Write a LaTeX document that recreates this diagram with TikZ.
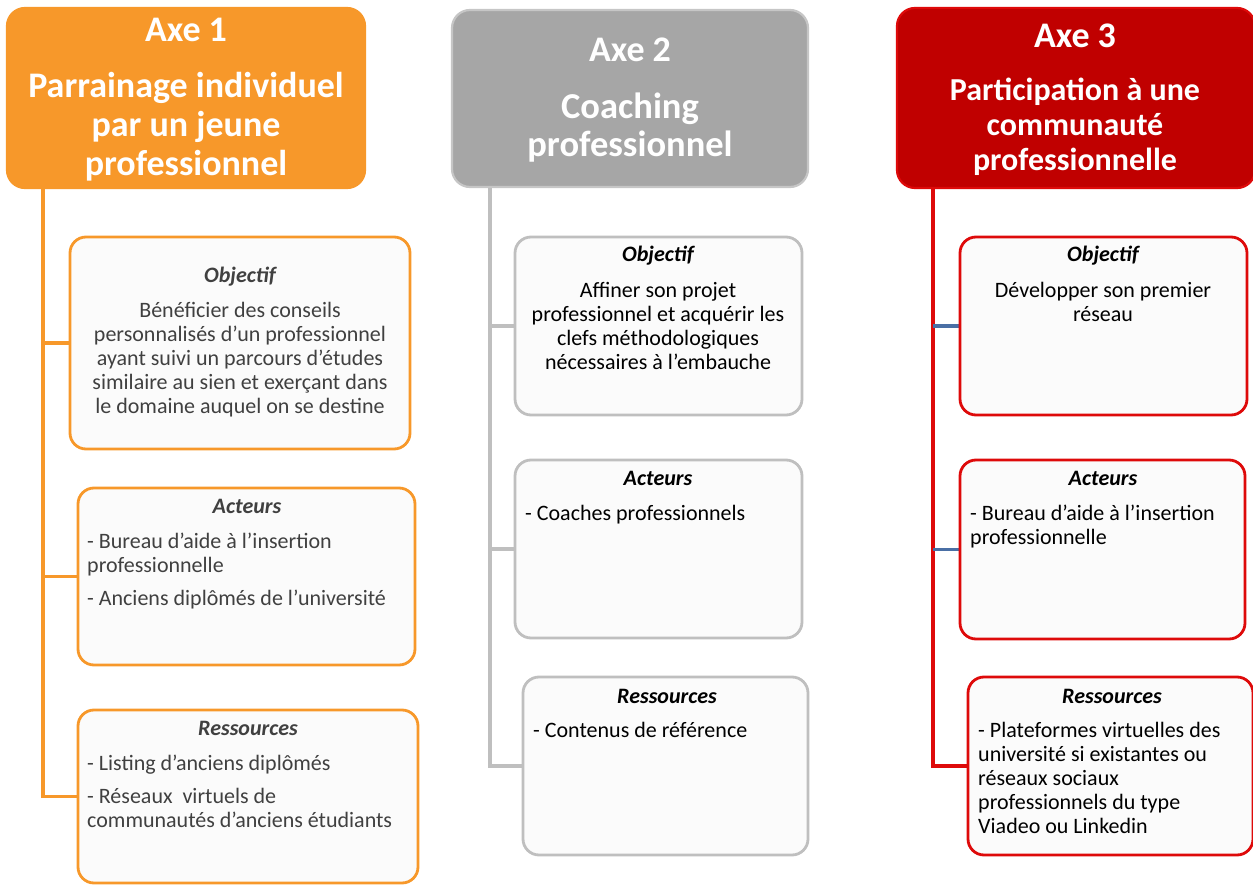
\documentclass[tikz,border=0pt]{standalone}
\usepackage{fontspec}
\setmainfont{Carlito}
\usetikzlibrary{backgrounds}
\definecolor{orA}{HTML}{F7982A}
\definecolor{grA}{HTML}{A6A6A6}
\definecolor{grB}{HTML}{C6C6C6}
\definecolor{grC}{HTML}{BFBFBF}
\definecolor{rdA}{HTML}{C00000}
\definecolor{rdB}{HTML}{DE0A0A}
\definecolor{blA}{HTML}{4A6FA5}
\definecolor{txg}{HTML}{404040}
\definecolor{sfill}{HTML}{FBFBFB}
\newcommand\bodyfont{\fontsize{22}{24}\selectfont}
\begin{document}
\begin{tikzpicture}[x=1pt,y=-1pt,
  hdr/.style={rounded corners=18pt, line width=2.2pt, inner sep=0},
  sub/.style={rounded corners=16pt, line width=2.8pt, fill=sfill, inner sep=0},
  axelbl/.style={inner sep=0, anchor=base, text=white, font=\fontsize{36}{39}\selectfont\bfseries},
  ttl/.style={inner sep=0, anchor=base, font=\bodyfont\bfseries\itshape},
  bodyc/.style={inner sep=0, anchor=north, align=center, font=\bodyfont},
  bodyl/.style={inner sep=0, anchor=north west, align=left, font=\bodyfont},
  sp1/.style={draw=orA, line width=3.2pt},
  sp2/.style={draw=grC, line width=3.2pt},
  sp3/.style={draw=rdB, line width=3.2pt},
  sp3b/.style={draw=blA, line width=3.2pt}]
\useasboundingbox (0,0) rectangle (1253,885);

% headers
\node[hdr, fill=orA, draw=orA, minimum width=358, minimum height=180] (h1) at (186,98) {};
\node[hdr, fill=grA, draw=grB, minimum width=356, minimum height=177] (h2) at (630,98.5) {};
\node[hdr, fill=rdA, draw=rdB, minimum width=358, minimum height=180] (h3) at (1076,98) {};

\node[axelbl] (h1a) at (186,42) {Axe 1};
\node[inner sep=0, anchor=north, align=center, text=white, font=\fontsize{36}{39}\selectfont\bfseries] (h1b) at (186,69.7) {\strut Parrainage individuel\\par un jeune\\professionnel};
\node[axelbl] (h2a) at (630,62) {Axe 2};
\node[inner sep=0, anchor=north, align=center, text=white, font=\fontsize{36.5}{36}\selectfont\bfseries] (h2b) at (630,92.8) {\strut Coaching\\professionnel};
\node[axelbl] (h3a) at (1075,48) {Axe 3};
\node[inner sep=0, anchor=north, align=center, text=white, font=\fontsize{32}{35}\selectfont\bfseries] (h3b) at (1075,75.5) {\strut Participation à une\\communauté\\professionnelle};

% sub boxes
\node[sub, draw=orA, minimum width=340, minimum height=212] (o1) at (240,343) {};
\node[sub, draw=orA, minimum width=337, minimum height=177] (a1) at (246.5,576.5) {};
\node[sub, draw=orA, minimum width=340, minimum height=173] (r1) at (248,796.5) {};
\node[sub, draw=grC, minimum width=287, minimum height=178] (o2) at (658.5,326) {};
\node[sub, draw=grC, minimum width=287, minimum height=178] (a2) at (658.5,549) {};
\node[sub, draw=grC, minimum width=285, minimum height=178] (r2) at (665.5,766) {};
\node[sub, draw=rdB, minimum width=287, minimum height=178] (o3) at (1103.5,326) {};
\node[sub, draw=rdB, minimum width=285, minimum height=179] (a3) at (1102.5,549.5) {};
\node[sub, draw=rdB, minimum width=285, minimum height=178] (r3) at (1110.5,766) {};

% connectors
\coordinate (t1) at (43,188);
\coordinate (t2) at (490,187);
\coordinate (t3) at (933,188);
\begin{scope}[on background layer]
\draw[sp1] (t1) |- (r1.west);
\draw[sp1] (t1 |- o1.west) -- (o1.west);
\draw[sp1] (t1 |- a1.west) -- (a1.west);
\draw[sp2] (t2) |- (r2.west);
\draw[sp2] (t2 |- o2.west) -- (o2.west);
\draw[sp2] (t2 |- a2.west) -- (a2.west);
\draw[sp3] (t3) |- (r3.west);
\draw[sp3b] (t3 |- o3.west) -- (o3.west);
\draw[sp3b] (t3 |- a3.west) -- (a3.west);
\end{scope}

% texts column 1
\node[ttl, text=txg] (o1t) at (240,283) {Objectif};
\node[bodyc, text=txg] (o1b) at (240,300.2) {\strut Bénéficier des conseils\\personnalisés d’un professionnel\\ayant suivi un parcours d’études\\similaire au sien et exerçant dans\\le domaine auquel on se destine};
\node[ttl, text=txg] (a1t) at (247,513) {Acteurs};
\node[bodyl, text=txg] (a1b) at (87,531.2) {\strut - Bureau d’aide à l’insertion\\professionnelle\\[9pt]- Anciens diplômés de l’université};
\node[ttl, text=txg] (r1t) at (248,735) {Ressources};
\node[bodyl, text=txg] (r1b) at (87,753.2) {\strut - Listing d’anciens diplômés\\[9pt]- Réseaux\ \ virtuels de\\communautés d’anciens étudiants};

% texts column 2
\node[ttl] (o2t) at (658,262) {Objectif};
\node[bodyc] (o2b) at (658,280.2) {\strut Affiner son projet\\professionnel et acquérir les\\clefs méthodologiques\\nécessaires à l’embauche};
\node[ttl] (a2t) at (658,485) {Acteurs};
\node[bodyl] (a2b) at (525,503.2) {\strut - Coaches professionnels};
\node[ttl] (r2t) at (667,703) {Ressources};
\node[bodyl] (r2b) at (533,720.2) {\strut - Contenus de référence};

% texts column 3
\node[ttl] (o3t) at (1103,262) {Objectif};
\node[bodyc] (o3b) at (1103,280.2) {\strut Développer son premier\\réseau};
\node[ttl] (a3t) at (1103,485) {Acteurs};
\node[bodyl] (a3b) at (970,503.2) {\strut - Bureau d’aide à l’insertion\\professionnelle};
\node[ttl] (r3t) at (1112,703) {Ressources};
\node[bodyl] (r3b) at (978,720.2) {\strut - Plateformes virtuelles des\\université si existantes ou\\réseaux sociaux\\professionnels du type\\Viadeo ou Linkedin};
\end{tikzpicture}
\end{document}
